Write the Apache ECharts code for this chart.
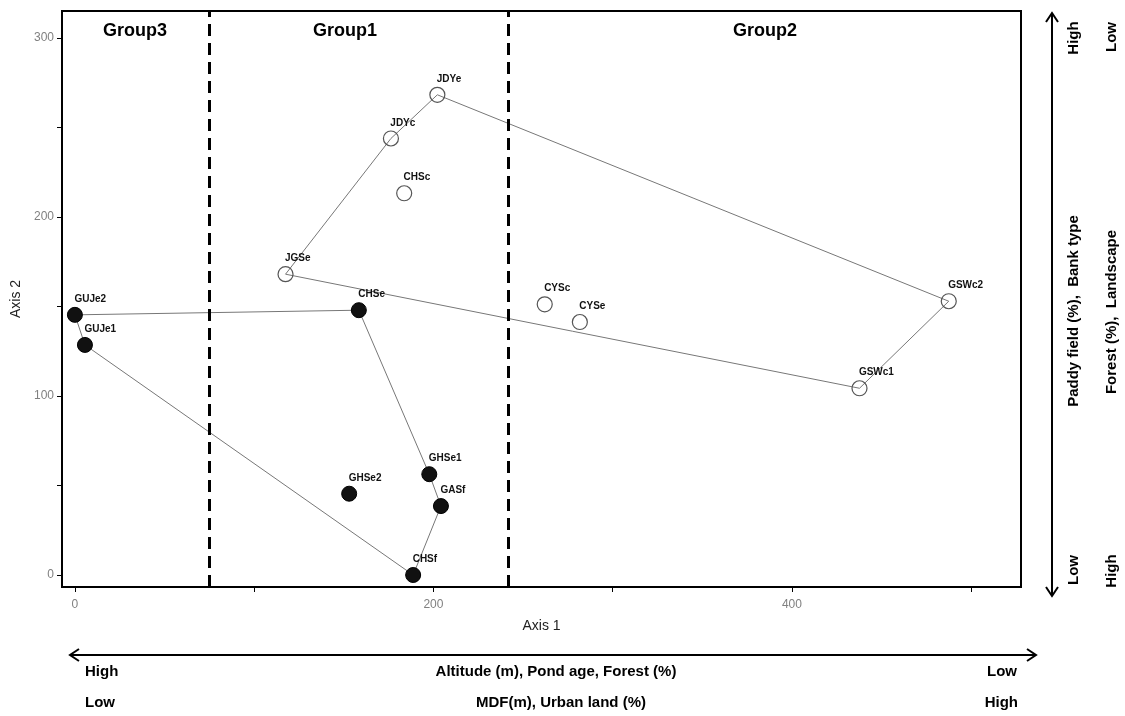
<!DOCTYPE html>
<html>
<head>
<meta charset="utf-8">
<script src="https://cdn.jsdelivr.net/npm/echarts@6/dist/echarts.min.js"></script>
<style>
  html, body { margin: 0; padding: 0; background: #fff; }
  #chart { width: 1125px; height: 716px; }
</style>
</head>
<body>
<div id="chart"></div>
<script>
// ponds with filled markers
var filledNames = ['GUJe2', 'GUJe1', 'CHSe', 'GHSe1', 'GHSe2', 'GASf', 'CHSf'];
var filledX = [0, 5.6, 158.4, 197.7, 153, 204.2, 188.7];
var filledY = [145.3, 128.5, 147.9, 56.3, 45.4, 38.5, 0];

// ponds with open markers
var openNames = ['JGSe', 'JDYc', 'JDYe', 'CHSc', 'CYSc', 'CYSe', 'GSWc1', 'GSWc2'];
var openX = [117.5, 176.3, 202.2, 183.7, 262.1, 281.7, 437.7, 487.5];
var openY = [168, 243.8, 268.2, 213.2, 151.2, 141.3, 104.3, 152.9];

// hull outlines (closed)
var filledHull = ['GUJe2', 'CHSe', 'GHSe1', 'GASf', 'CHSf', 'GUJe1', 'GUJe2'];
var openHull = ['JGSe', 'JDYc', 'JDYe', 'GSWc2', 'GSWc1', 'JGSe'];

// group boundaries on axis 1
var groupBreaks = [75, 242];

var xTicks = [0, 100, 200, 300, 400, 500];
var xLabels = [0, 200, 400];
var yTicks = [0, 50, 100, 150, 200, 250, 300];
var yLabels = [0, 100, 200, 300];

var lookup = {};
filledNames.forEach(function (n, i) { lookup[n] = [filledX[i], filledY[i]]; });
openNames.forEach(function (n, i) { lookup[n] = [openX[i], openY[i]]; });

function pts(names, xs, ys) {
    return names.map(function (n, i) { return { name: n, value: [xs[i], ys[i]] }; });
}
function hull(names) {
    return names.map(function (n) { return lookup[n]; });
}

var labelStyle = {
    show: true,
    formatter: '{b}',
    position: [7.5, -7.5],
    align: 'left',
    verticalAlign: 'middle',
    fontSize: 10,
    fontWeight: 'bold',
    fontFamily: 'Liberation Sans, Arial, sans-serif',
    color: '#111'
};

var chart = echarts.init(document.getElementById('chart'));

var bold = 'bold 15px "Liberation Sans", Arial, sans-serif';
function vtext(x, y, t) {
    return { type: 'text', x: x, y: y, rotation: Math.PI / 2, silent: true,
        style: { text: t, font: bold, fill: '#000', align: 'center', verticalAlign: 'middle' } };
}
function htext(x, y, t, align) {
    return { type: 'text', x: x, y: y, silent: true,
        style: { text: t, font: bold, fill: '#000', align: align, verticalAlign: 'middle' } };
}
var arrowStyle = { stroke: '#000', lineWidth: 2, fill: null };
var groupFont = 'bold 18px "Liberation Sans", Arial, sans-serif';

var option = {
    animation: false,
    grid: {
        left: 62, top: 11, right: 104, bottom: 129,
        show: true, borderColor: '#000', borderWidth: 2
    },
    xAxis: {
        type: 'value',
        min: -7.2, max: 527.8,
        name: 'Axis 1',
        nameLocation: 'middle',
        nameGap: 32,
        nameTextStyle: { fontSize: 14, color: '#222', fontFamily: 'Liberation Sans, Arial, sans-serif' },
        splitLine: { show: false },
        axisLine: { onZero: false, lineStyle: { color: '#000', width: 2 } },
        axisTick: { customValues: xTicks, length: 5, lineStyle: { color: '#000' } },
        axisLabel: { customValues: xLabels, color: '#808080', fontSize: 12, margin: 12 }
    },
    yAxis: {
        type: 'value',
        min: -6.7, max: 315,
        name: 'Axis 2',
        nameLocation: 'middle',
        nameGap: 33,
        nameTextStyle: { fontSize: 14, color: '#222', fontFamily: 'Liberation Sans, Arial, sans-serif' },
        splitLine: { show: false },
        axisLine: { onZero: false, lineStyle: { color: '#000', width: 2 } },
        axisTick: { customValues: yTicks, length: 5, lineStyle: { color: '#000' } },
        axisLabel: { customValues: yLabels, color: '#808080', fontSize: 12, margin: 8 }
    },
    series: [
        {
            type: 'line', data: hull(filledHull), symbol: 'none', silent: true,
            lineStyle: { color: '#777', width: 1 }, z: 1
        },
        {
            type: 'line', data: hull(openHull), symbol: 'none', silent: true,
            lineStyle: { color: '#777', width: 1 }, z: 1
        },
        {
            type: 'scatter', data: pts(filledNames, filledX, filledY),
            symbol: 'circle', symbolSize: 15,
            itemStyle: { color: '#111', borderColor: '#000', borderWidth: 1, opacity: 1 },
            label: labelStyle, z: 3,
            markLine: {
                silent: true, symbol: 'none', label: { show: false },
                lineStyle: { type: [12, 7], width: 3, color: '#000' },
                data: groupBreaks.map(function (v) { return { xAxis: v }; })
            }
        },
        {
            type: 'scatter', data: pts(openNames, openX, openY),
            symbol: 'circle', symbolSize: 15,
            itemStyle: { color: 'rgba(255,255,255,0)', borderColor: '#555', borderWidth: 1.2, opacity: 1 },
            label: labelStyle, z: 3
        }
    ],
    graphic: [
        { type: 'text', x: 135, y: 31, silent: true, style: { text: 'Group3', font: groupFont, fill: '#000', align: 'center', verticalAlign: 'middle' } },
        { type: 'text', x: 345, y: 31, silent: true, style: { text: 'Group1', font: groupFont, fill: '#000', align: 'center', verticalAlign: 'middle' } },
        { type: 'text', x: 765, y: 31, silent: true, style: { text: 'Group2', font: groupFont, fill: '#000', align: 'center', verticalAlign: 'middle' } },

        // right vertical arrow
        { type: 'line', shape: { x1: 1052, y1: 13, x2: 1052, y2: 596 }, style: arrowStyle, silent: true },
        { type: 'polyline', shape: { points: [[1046, 22], [1052, 13], [1058, 22]] }, style: arrowStyle, silent: true },
        { type: 'polyline', shape: { points: [[1046, 587], [1052, 596], [1058, 587]] }, style: arrowStyle, silent: true },
        vtext(1074, 38, 'High'),
        vtext(1074, 311, 'Paddy field (%),  Bank type'),
        vtext(1074, 570, 'Low'),
        vtext(1112, 37, 'Low'),
        vtext(1112, 312, 'Forest (%),  Landscape'),
        vtext(1112, 571, 'High'),

        // bottom horizontal arrow
        { type: 'line', shape: { x1: 70, y1: 655, x2: 1036, y2: 655 }, style: arrowStyle, silent: true },
        { type: 'polyline', shape: { points: [[79, 649], [70, 655], [79, 661]] }, style: arrowStyle, silent: true },
        { type: 'polyline', shape: { points: [[1027, 649], [1036, 655], [1027, 661]] }, style: arrowStyle, silent: true },
        htext(85, 672, 'High', 'left'),
        htext(556, 672, 'Altitude (m), Pond age, Forest (%)', 'center'),
        htext(1017, 672, 'Low', 'right'),
        htext(85, 703, 'Low', 'left'),
        htext(561, 703, 'MDF(m), Urban land (%)', 'center'),
        htext(1018, 703, 'High', 'right')
    ]
};

chart.setOption(option);
</script>
</body>
</html>
